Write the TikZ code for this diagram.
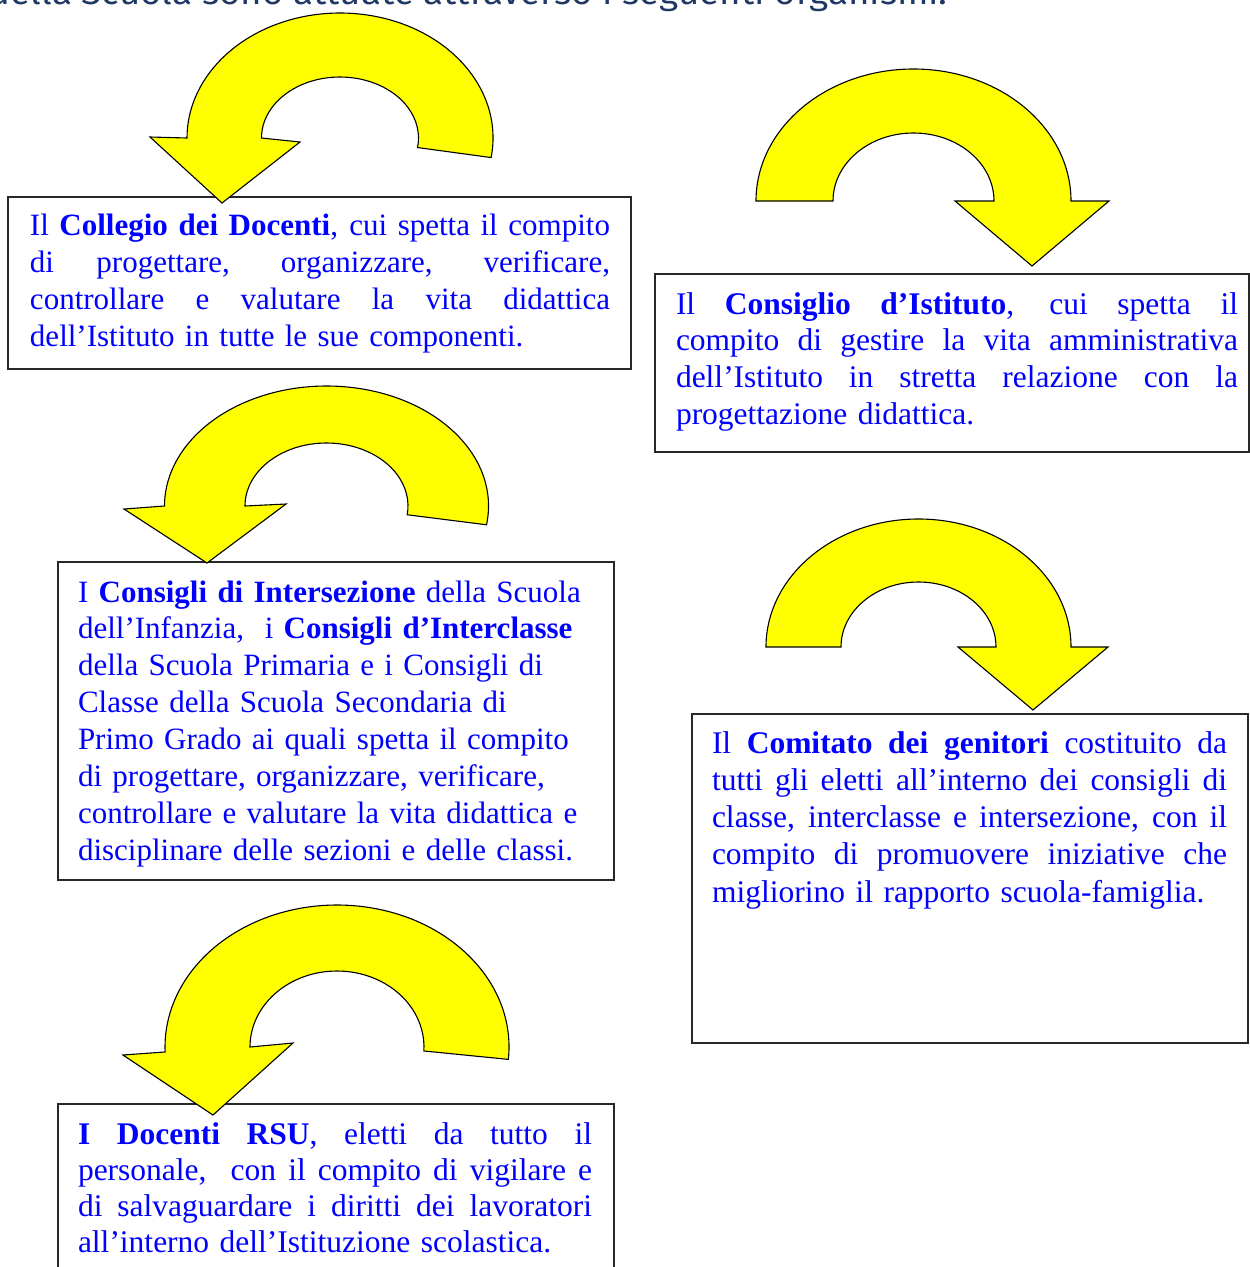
\documentclass[tikz,border=0pt]{standalone}
\usepackage{fontspec}
\setmainfont{Liberation Serif}
\newfontfamily\titlefont[FakeStretch=1.08]{Fira Sans}
\definecolor{txtblue}{RGB}{0,0,255}
\definecolor{navy}{RGB}{31,56,100}
\definecolor{boxline}{RGB}{40,40,40}
\definecolor{ayellow}{RGB}{255,255,0}
\newcommand\jl[2]{\leavevmode\hbox to #1{\spaceskip=\fontdimen2\font plus 1fil\xspaceskip=\spaceskip\relax #2}}
\begin{document}
\begin{tikzpicture}[x=1pt,y=1pt,
  box/.style={draw=boxline, line width=1.4pt, inner sep=0pt, outer sep=0pt, anchor=north west},
  txt/.style={text=txtblue, inner sep=0pt, outer sep=0pt, anchor=base west, align=left},
  yarrow/.style={fill=ayellow, draw=black, line width=1.1pt, line join=miter}]
\useasboundingbox (0,0) rectangle (1250,-1267);
\clip (0,0) rectangle (1250,-1267);
\fill[white] (0,0) rectangle (1250,-1267);

\node[anchor=base east, text=navy, font=\titlefont\fontsize{34}{40}\selectfont, inner sep=0pt] (title) at (948,-4) {della Scuola sono attuate attraverso i seguenti organismi.};

% boxes
\node[box, minimum width=623pt, minimum height=172pt] (b1) at (8,-197) {};
\node[box, minimum width=594pt, minimum height=178pt] (b2) at (655,-274) {};
\node[box, minimum width=556pt, minimum height=318pt] (b3) at (58,-562) {};
\node[box, minimum width=556pt, minimum height=329pt] (b4) at (692,-714) {};
\node[box, minimum width=556pt, minimum height=220pt] (b5) at (58,-1104) {};

% texts
\node[txt, text width=580pt, font=\fontsize{31}{37}\selectfont] (t1) at (30,-235) {%
\jl{580pt}{Il \textbf{Collegio dei Docenti}, cui spetta il compito}\\
\jl{580pt}{di progettare, organizzare, verificare,}\\
\jl{580pt}{controllare e valutare la vita didattica}\\
dell’Istituto in tutte le sue componenti.};

\node[txt, text width=562pt, font=\fontsize{31.5}{36.7}\selectfont] (t2) at (676,-314) {%
\jl{562pt}{Il \textbf{Consiglio d’Istituto}, cui spetta il}\\
\jl{562pt}{compito di gestire la vita amministrativa}\\
\jl{562pt}{dell’Istituto in stretta relazione con la}\\
progettazione didattica.};

\node[txt, text width=560pt, font=\fontsize{31}{36.9}\selectfont] (t3) at (78,-602) {%
I \textbf{Consigli di Intersezione} della Scuola\\
dell’Infanzia,\ \ i \textbf{Consigli d’Interclasse}\\
della Scuola Primaria e i Consigli di\\
Classe della Scuola Secondaria di\\
Primo Grado ai quali spetta il compito\\
di progettare, organizzare, verificare,\\
controllare e valutare la vita didattica e\\
disciplinare delle sezioni e delle classi.};

\node[txt, text width=515pt, font=\fontsize{31.5}{37.25}\selectfont] (t4) at (712,-753) {%
\jl{515pt}{Il \textbf{Comitato dei genitori} costituito da}\\
\jl{515pt}{tutti gli eletti all’interno dei consigli di}\\
\jl{515pt}{classe, interclasse e intersezione, con il}\\
\jl{515pt}{compito di promuovere iniziative che}\\
migliorino il rapporto scuola-famiglia.};

\node[txt, text width=514pt, font=\fontsize{31.5}{36}\selectfont] (t5) at (78,-1144) {%
\jl{514pt}{\textbf{I Docenti RSU}, eletti da tutto il}\\
\jl{514pt}{personale,\ \ con il compito di vigilare e}\\
\jl{514pt}{di salvaguardare i diritti dei lavoratori}\\
all’interno dell’Istituzione scolastica.};

% arrows
\begin{scope}[shift={(340,-138)}]
\draw[yarrow] (-9:153pt and 125pt) arc[start angle=-9,end angle=180,x radius=153pt,y radius=125pt]
  -- (-190,1) -- (-118,-65) -- (-40,-4) -- (180:78.5pt and 61pt)
  arc[start angle=180,end angle=-9,x radius=78.5pt,y radius=61pt] -- cycle;
\end{scope}

\begin{scope}[shift={(913.5,-201)}]
\draw[yarrow] (180:157.5pt and 132pt) arc[start angle=180,end angle=0,x radius=157.5pt,y radius=132pt]
  -- (195.5,0) -- (118.5,-65) -- (41.5,0) -- (0:80.5pt and 68pt)
  arc[start angle=0,end angle=180,x radius=80.5pt,y radius=68pt] -- cycle;
\end{scope}

\begin{scope}[shift={(326.5,-506)}]
\draw[yarrow] (-9:162pt and 120pt) arc[start angle=-9,end angle=180,x radius=162pt,y radius=120pt]
  -- (-202.5,-3) -- (-119.5,-57) -- (-40.5,2) -- (180:81.5pt and 63pt)
  arc[start angle=180,end angle=-8,x radius=81.5pt,y radius=63pt] -- cycle;
\end{scope}

\begin{scope}[shift={(918.5,-647)}]
\draw[yarrow] (180:152.5pt and 128pt) arc[start angle=180,end angle=0,x radius=152.5pt,y radius=128pt]
  -- (189.5,0) -- (114.5,-63) -- (39.5,0) -- (0:77.5pt and 65pt)
  arc[start angle=0,end angle=180,x radius=77.5pt,y radius=65pt] -- cycle;
\end{scope}

\begin{scope}[shift={(337,-1047)}]
\draw[yarrow] (-5:172pt and 142pt) arc[start angle=-5,end angle=182,x radius=172pt,y radius=142pt]
  -- (-214,-8) -- (-124,-68) -- (-44,4) -- (180:87pt and 76pt)
  arc[start angle=180,end angle=-3,x radius=87pt,y radius=76pt] -- cycle;
\end{scope}
\end{tikzpicture}
\end{document}
